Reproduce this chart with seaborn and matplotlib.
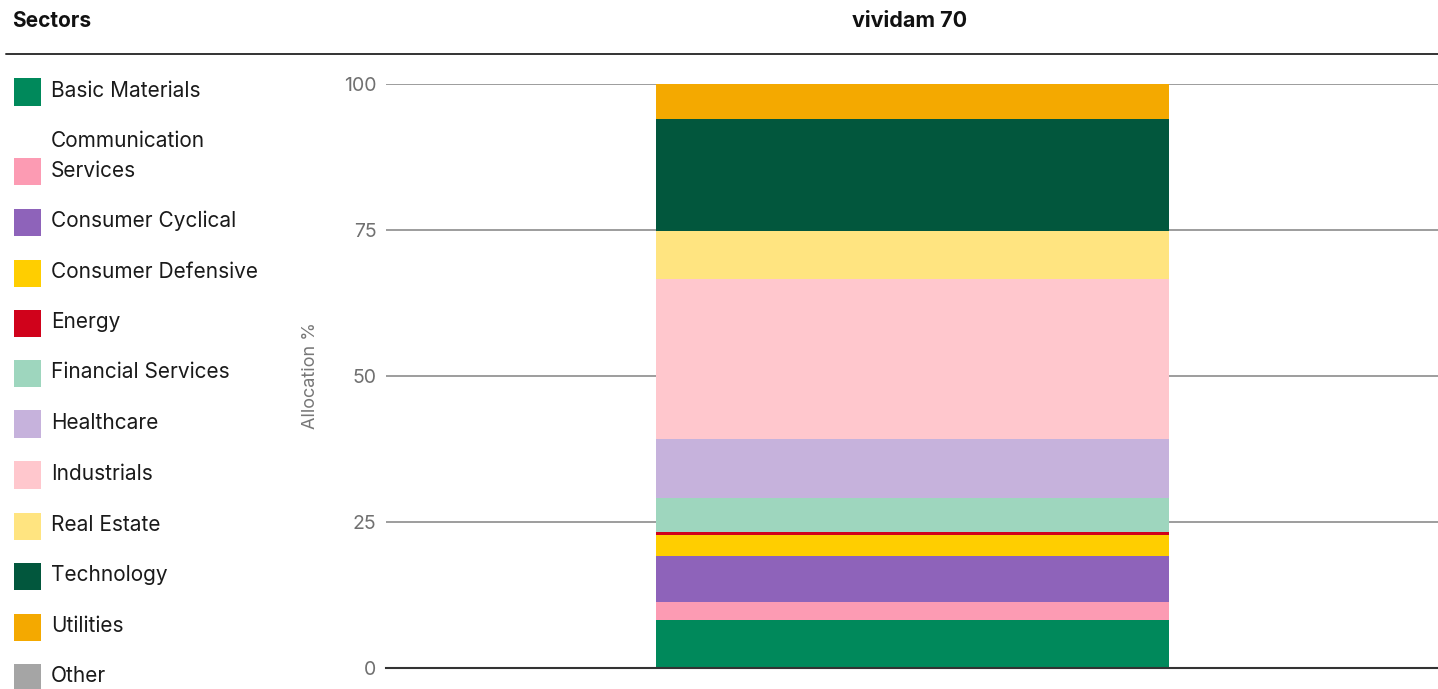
import numpy as np
import pandas as pd
import matplotlib
matplotlib.use("Agg")
import matplotlib.pyplot as plt
from matplotlib.patches import Rectangle
import seaborn as sns

# Dados (alocação % por setor)
fund = "vividam 70"
sectors = ["Basic Materials", "Communication\nServices", "Consumer Cyclical",
           "Consumer Defensive", "Energy", "Financial Services", "Healthcare",
           "Industrials", "Real Estate", "Technology", "Utilities", "Other"]
allocation = [8.2, 3.1, 7.9, 3.6, 0.5, 5.8, 10.1, 27.4, 8.2, 19.2, 6.0, 0.0]
colors = ["#00895B", "#FC9BB3", "#8E63BA", "#FFCE00", "#D0021B", "#9ED6BE",
          "#C6B2DC", "#FFC7CD", "#FFE480", "#02573D", "#F4A900", "#A5A5A5"]
yticks = [0, 25, 50, 75, 100]

W, H = 1438, 689

sns.set_theme(style="white")
plt.rcParams["font.family"] = ["Inter", "DejaVu Sans"]

fig = plt.figure(figsize=(W / 100, H / 100), dpi=100)

def fx(px):
    return px / W

def fy(py):
    return 1 - py / H

AX_LEFT = 386
ax = fig.add_axes([fx(AX_LEFT), fy(668), fx(1438 - AX_LEFT), fy(84) - fy(668)])

df = pd.DataFrame({"fund": fund, "sector": sectors, "allocation": allocation})
df["top"] = np.cumsum(df["allocation"])

# Barras empilhadas: desenha do maior acumulado para o menor
for i in range(len(df) - 1, -1, -1):
    row = df.iloc[[i]]
    sns.barplot(data=row, x="fund", y="top", color=colors[i], width=513 / (1438 - AX_LEFT),
                saturation=1, linewidth=0, edgecolor="none", ax=ax, zorder=3)

ax.set_xlim(-0.5, 0.5)
ax.set_ylim(0, 100)
ax.set_yticks(yticks)
ax.set_yticklabels([str(t) for t in yticks], color="#707070", fontsize=14)
ax.tick_params(axis="y", length=0, pad=7)
ax.set_xticks([])
ax.set_xlabel("")
ax.set_ylabel("Allocation %", color="#777777", fontsize=13, labelpad=18)
ax.yaxis.grid(True, color="#8c8c8c", linewidth=1.2, zorder=0)
ax.set_axisbelow(True)
for side in ["top", "right", "left"]:
    ax.spines[side].set_visible(False)
ax.spines["bottom"].set_color("#333333")
ax.spines["bottom"].set_linewidth(1.5)
ax.spines["bottom"].set_zorder(5)

# Cabeçalho
fig.text(fx(12), fy(21), "Sectors", fontsize=15, fontweight="bold",
         color="#111111", va="center", ha="left")
fig.text(fx(910), fy(21), fund, fontsize=15.5, fontweight="bold",
         color="#111111", va="center", ha="center")
fig.add_artist(plt.Line2D([fx(6), fx(1438)], [fy(54), fy(54)],
                          color="#333333", linewidth=1.4))

# Legenda manual
row_centers = [92, 172, 222, 273, 323, 373, 424, 475, 526, 576, 627, 677]
for name, col, cy in zip(sectors, colors, row_centers):
    fig.add_artist(Rectangle((fx(14), fy(cy + 13.5)), fx(27), fy(cy - 13.5) - fy(cy + 13.5),
                             facecolor=col, edgecolor="none"))
    if "\n" in name:
        l1, l2 = name.split("\n")
        fig.text(fx(51), fy(cy - 31), l1, fontsize=15, color="#1a1a1a",
                 va="center", ha="left")
        fig.text(fx(51), fy(cy - 1), l2, fontsize=15, color="#1a1a1a",
                 va="center", ha="left")
    else:
        fig.text(fx(51), fy(cy - 1), name, fontsize=15, color="#1a1a1a",
                 va="center", ha="left")

fig.savefig("out.png", dpi=100)
